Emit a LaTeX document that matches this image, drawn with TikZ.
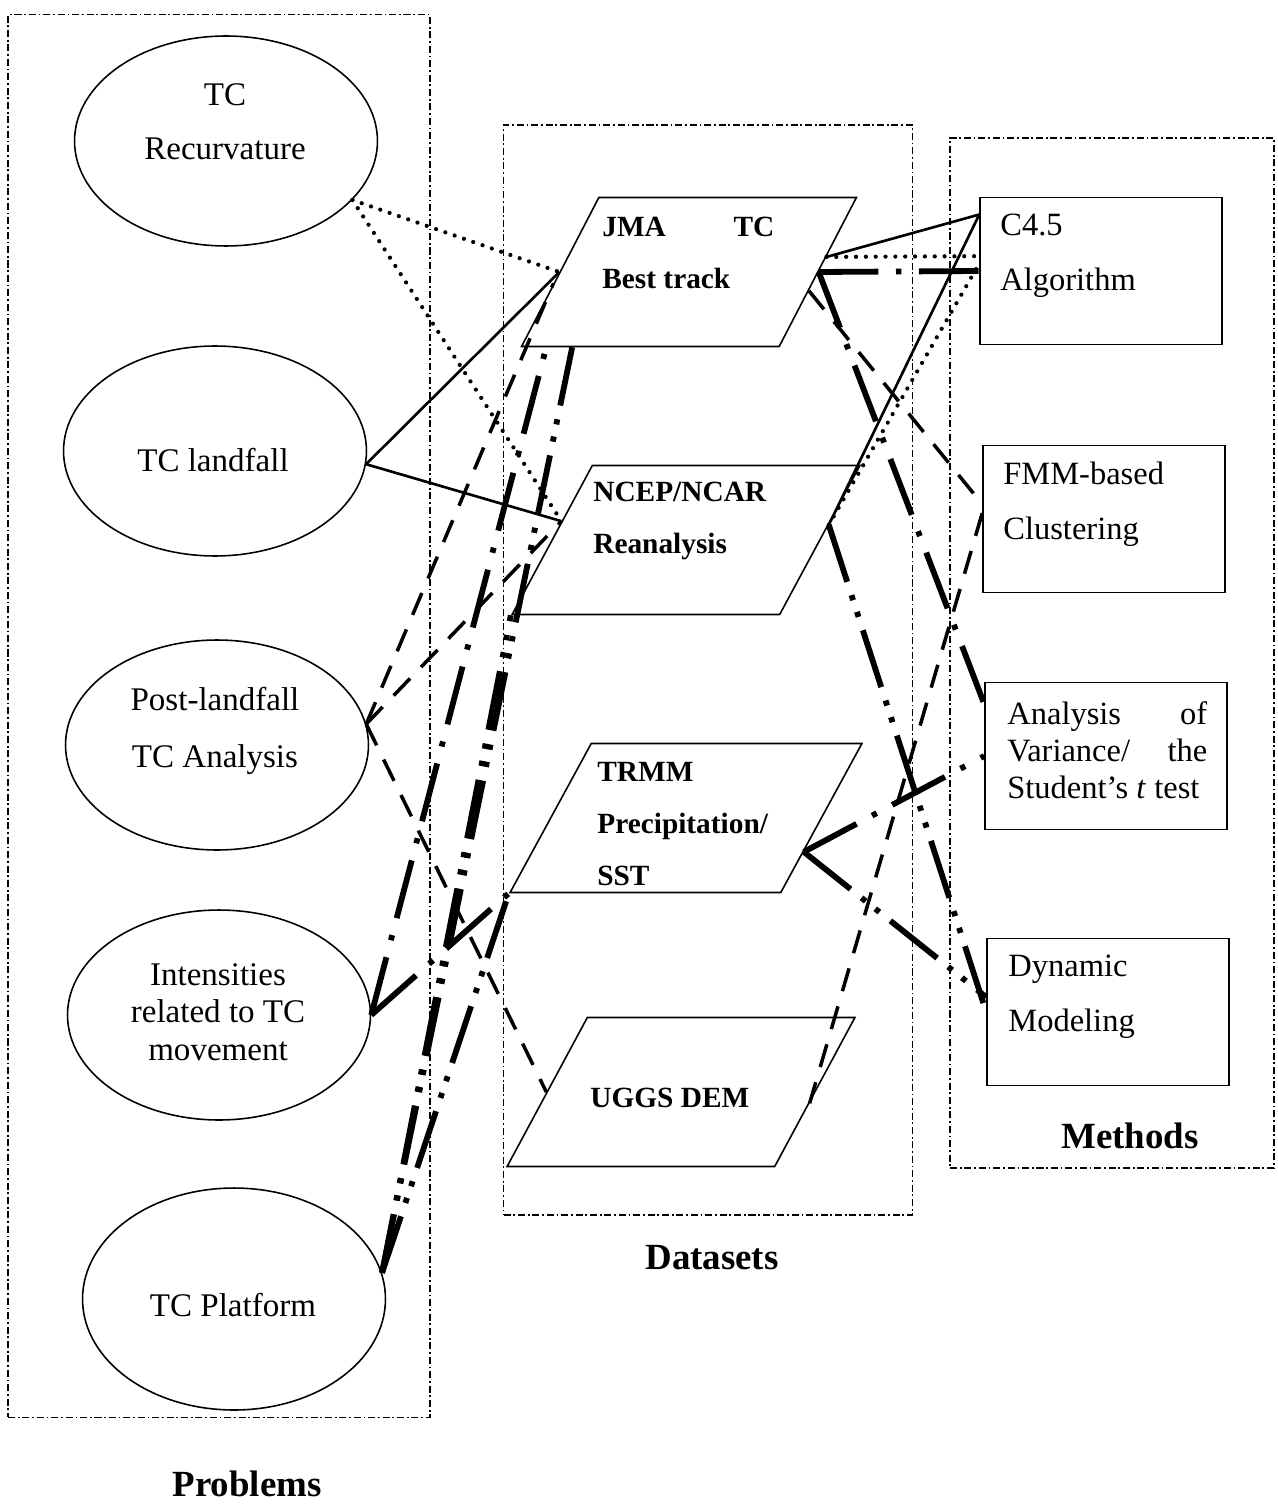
\documentclass[tikz,border=0pt]{standalone}
\usepackage{fontspec}
\setmainfont{Liberation Serif}
\usetikzlibrary{shapes.geometric,calc}

\tikzset{
  frame/.style={draw,line width=.7pt,dash pattern=on 4pt off 1.6pt on 1pt off 1.6pt,inner sep=0pt},
  problem/.style={draw,ellipse,line width=.9pt,minimum width=6.06cm,minimum height=4.2cm,inner sep=0pt},
  dataset/.style={draw,trapezium,trapezium left angle=65,trapezium right angle=115,trapezium stretches=true,line width=.9pt,minimum width=6.96cm,minimum height=2.98cm,inner sep=0pt},
  method/.style={draw,rectangle,line width=.9pt,minimum width=4.84cm,minimum height=2.94cm,inner sep=0pt},
  ptext/.style={font=\fontsize{18.8}{31}\selectfont,align=center,inner sep=0pt},
  dtext/.style={font=\fontsize{16.7}{29.5}\selectfont\bfseries,align=left,anchor=west,inner sep=0pt},
  mtext/.style={font=\fontsize{18.5}{31.5}\selectfont,align=left,anchor=west,inner sep=0pt},
  grouplabel/.style={font=\fontsize{21}{25}\selectfont\bfseries,inner sep=0pt},
  dotline/.style={line width=2.4pt,line cap=round,dash pattern=on 0pt off 5.6pt},
  solidline/.style={line width=1.5pt},
  dashline/.style={line width=2pt,dash pattern=on 13.5pt off 9pt},
  intline/.style={line width=3.3pt,dash pattern=on 34pt off 10pt on 3pt off 10pt},
  platline/.style={line width=3.3pt,dash pattern=on 34pt off 8pt on 3pt off 7pt on 3pt off 8pt}
}

\begin{document}
\begin{tikzpicture}[x=0.02cm,y=-0.02cm]
\useasboundingbox (0,0) rectangle (1277,1506);
% group frames
\node[frame,minimum width=8.44cm,minimum height=28.06cm] (probframe) at (219,716) {};
\node[frame,minimum width=8.18cm,minimum height=21.8cm] (dataframe) at (708,670) {};
\node[frame,minimum width=6.48cm,minimum height=20.6cm] (methframe) at (1112,653) {};
\node[grouplabel] (problabel) at (247,1484) {Problems};
\node[grouplabel] (datalabel) at (712,1258) {Datasets};
\node[grouplabel] (methlabel) at (1130,1136) {Methods};

% problems
\node[problem] (recurv) at (226,141) {};
\node[problem] (landfall) at (215,451) {};
\node[problem] (postland) at (217,745) {};
\node[problem] (intens) at (219,1015) {};
\node[problem,minimum height=4.44cm] (platform) at (234,1299) {};
\node[ptext] (recurvtext) at (225,122) {TC\\Recurvature};
\node[ptext] (landtext) at (213,460) {TC landfall};
\node[ptext,font=\fontsize{18.8}{32}\selectfont] (posttext) at (215,731) {Post-landfall\\TC Analysis};
\node[ptext,font=\fontsize{18.8}{21.3}\selectfont] (intenstext) at (218,1012) {Intensities\\related to TC\\movement};
\node[ptext] (plattext) at (233,1305) {TC Platform};

% datasets
\node[dataset,minimum width=6.7cm] (jma) at (689,272) {\phantom{x}};
\node[dataset] (ncep) at (686,540) {\phantom{x}};
\node[dataset,minimum width=7.04cm] (trmm) at (686,818) {\phantom{x}};
\node[dataset] (ugg) at (681,1092) {\phantom{x}};
\node[dtext] (jmatext) at (602,253) {\makebox[3.44cm][s]{JMA TC}\\Best track};
\node[dtext] (nceptext) at (593,521) {NCEP/NCAR\\Reanalysis};
\node[dtext] (trmmtext) at (597,824) {TRMM\\Precipitation/\\SST};
\node[dtext] (uggtext) at (590,1098) {UGGS DEM};

% methods
\node[method] (c45) at (1101,271) {};
\node[method] (fmm) at (1104,519) {};
\node[method] (ana) at (1106,756) {};
\node[method] (dyn) at (1108,1012) {};
\node[mtext] (c45text) at (1000,256) {C4.5\\Algorithm};
\node[mtext] (fmmtext) at (1003,504) {FMM-based\\Clustering};
\node[mtext,font=\fontsize{18.5}{21}\selectfont] (anatext) at (1007,750) {\makebox[4cm][s]{Analysis of}\\\makebox[4cm][s]{Variance/ the}\\Student's \textit{t} test};
\node[mtext] (dyntext) at (1008,997) {Dynamic\\Modeling};

% connector ends
\coordinate (jmaLlow) at ($(jma.left side)!0.15!(jma.bottom left corner)$);
\coordinate (jmaB1) at ($(jma.bottom left corner)!0.1!(jma.bottom right corner)$);
\coordinate (jmaB2) at ($(jma.bottom left corner)!0.2!(jma.bottom right corner)$);
\coordinate (jmaR) at ($(jma.right side)!0.2!(jma.top right corner)$);
\coordinate (jmaRlow) at ($(jma.right side)!0.25!(jma.bottom right corner)$);
\coordinate (ncepL) at ($(ncep.left side)!0.25!(ncep.top left corner)$);
\coordinate (ncepR) at ($(ncep.right side)!0.2!(ncep.top right corner)$);
\coordinate (trmmR) at ($(trmm.right side)!0.45!(trmm.bottom right corner)$);
\coordinate (uggR) at ($(ugg.right side)!0.15!(ugg.bottom right corner)$);
\coordinate (c45top) at ($(c45.north west)!0.12!(c45.south west)$);
\coordinate (c45a) at ($(c45.north west)!0.4!(c45.south west)$);
\coordinate (c45b) at ($(c45.north west)!0.45!(c45.south west)$);
\coordinate (fmmA) at ($(fmm.north west)!0.4!(fmm.south west)$);
\coordinate (fmmB) at ($(fmm.north west)!0.46!(fmm.south west)$);
\coordinate (anaA) at ($(ana.north west)!0.15!(ana.south west)$);
\coordinate (dynA) at ($(dyn.north west)!0.4!(dyn.south west)$);

% problems to datasets
\draw[dotline] (recurv.-25) -- (jma.left side);
\draw[dotline] (recurv.-25) -- (ncepL);
\draw[solidline] (landfall.-5) -- (jma.left side);
\draw[solidline] (landfall.-5) -- (ncepL);
\draw[dashline] (postland.8) -- (jmaLlow);
\draw[dashline] (postland.8) -- (ncepL);
\draw[dashline] (postland.8) -- (ugg.left side);
\draw[intline] (intens.east) -- (jmaB1);
\draw[intline] (intens.east) -- (trmm.bottom left corner);
\draw[platline] (platform.10) -- (jmaB2);
\draw[platline] (platform.10) -- (ncep.bottom left corner);
\draw[platline] (platform.10) -- (trmm.bottom left corner);

% datasets to methods
\draw[dotline] (jmaR) -- (c45a);
\draw[dotline] (ncepR) -- (c45b);
\draw[solidline] (jmaR) -- (c45top);
\draw[solidline] (ncepR) -- (c45top);
\draw[dashline] (jmaRlow) -- (fmmA);
\draw[dashline] (fmmB) -- (uggR);
\draw[intline] (jma.right side) -- (c45.west);
\draw[intline] (jma.right side) -- (anaA);
\draw[intline] (trmmR) -- (ana.west);
\draw[platline] (trmmR) -- (dynA);
\draw[platline] (ncepR) -- (dyn.west);
\end{tikzpicture}
\end{document}
